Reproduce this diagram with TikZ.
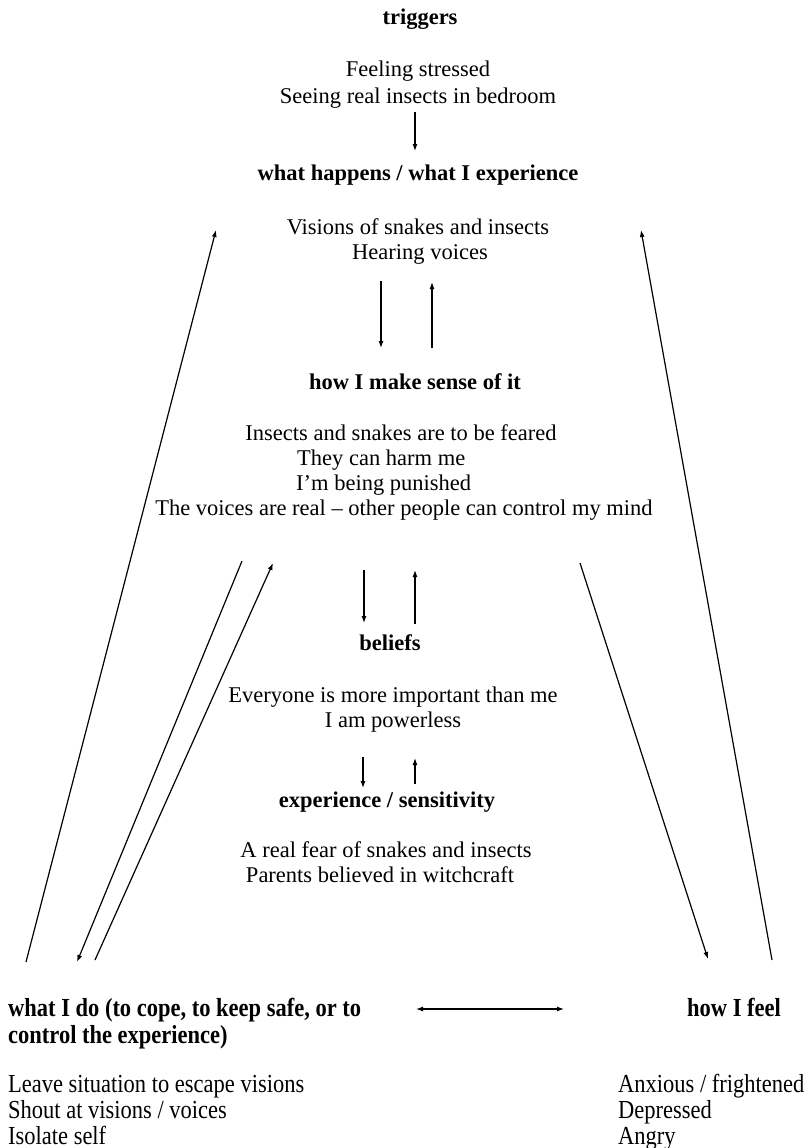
\documentclass[tikz,border=0pt]{standalone}
\usepackage{fontspec}
\setmainfont{Liberation Serif}
\newfontfamily\condfont[FakeStretch=0.865]{Liberation Serif}
\usetikzlibrary{arrows.meta}
\begin{document}
\begin{tikzpicture}[x=1pt,y=-1pt,
  txt/.style={inner sep=0pt, anchor=base, font=\fontsize{22.5}{25.5}\selectfont},
  head/.style={inner sep=0pt, anchor=base, font=\fontsize{22.5}{25.5}\selectfont\bfseries},
  ltxt/.style={txt, anchor=base west},
  ctxt/.style={inner sep=0pt, anchor=base west, font=\condfont\fontsize{26}{26.5}\selectfont},
  chead/.style={inner sep=0pt, anchor=base west, font=\condfont\bfseries\fontsize{26}{26.5}\selectfont},
  conn/.style={line width=1.2pt, -{Latex[length=7pt,width=5pt]}},
  plain/.style={line width=1.2pt},
  dconn/.style={line width=1.2pt, {Latex[length=7pt,width=5pt]}-{Latex[length=7pt,width=5pt]}}]
\useasboundingbox (0,0) rectangle (807,1148);

% texts
\node[head] (trig) at (420,25) {triggers};
\node[txt] (t1) at (418,77) {Feeling stressed};
\node[txt] (t2) at (418,103) {Seeing real insects in bedroom};
\node[head] (happ) at (418,180) {what happens / what I experience};
\node[txt] (h1) at (418,234) {Visions of snakes and insects};
\node[txt] (h2) at (420,259) {Hearing voices};
\node[head] (sense) at (415,389) {how I make sense of it};
\node[txt] (s1) at (401,440) {Insects and snakes are to be feared};
\node[ltxt] (s2) at (297,465) {They can harm me};
\node[ltxt] (s3) at (296,490) {I’m being punished};
\node[txt] (s4) at (404,515) {The voices are real – other people can control my mind};
\node[head] (bel) at (390,650) {beliefs};
\node[txt] (b1) at (393,702) {Everyone is more important than me};
\node[txt] (b2) at (393,727) {I am powerless};
\node[head] (exper) at (387,807) {experience / sensitivity};
\node[txt] (e1) at (386,857) {A real fear of snakes and insects};
\node[txt] (e2) at (380,882) {Parents believed in witchcraft};
\node[chead] (do1) at (8,1016) {what I do (to cope, to keep safe, or to};
\node[chead] (do2) at (8,1043) {control the experience)};
\node[ctxt] (d1) at (8,1092) {Leave situation to escape visions};
\node[ctxt] (d2) at (8,1118) {Shout at visions / voices};
\node[ctxt] (d3) at (8,1144) {Isolate self};
\node[chead] (feel) at (687,1016) {how I feel};
\node[ctxt] (f1) at (618,1092) {Anxious / frightened};
\node[ctxt] (f2) at (618,1118) {Depressed};
\node[ctxt] (f3) at (618,1144) {Angry};

% connector end points
\coordinate (a1s) at (415,112); \coordinate (a1e) at (415,151);
\coordinate (a2s) at (381,281); \coordinate (a2e) at (381,348);
\coordinate (a3s) at (432,348); \coordinate (a3e) at (432,282);
\coordinate (a4s) at (364,570); \coordinate (a4e) at (364,623);
\coordinate (a5s) at (415,624); \coordinate (a5e) at (415,570);
\coordinate (a6s) at (363,757); \coordinate (a6e) at (363,788);
\coordinate (a7s) at (415,784); \coordinate (a7e) at (415,758);
\coordinate (ls) at (26,962);   \coordinate (le) at (216,230);
\coordinate (rs) at (772,960);  \coordinate (re) at (641,230);
\coordinate (las) at (242,561); \coordinate (lae) at (77,962);
\coordinate (lbs) at (95,960);  \coordinate (lbe) at (273,563);
\coordinate (rms) at (580,563); \coordinate (rme) at (708,959);
\coordinate (dls) at (416,1009); \coordinate (dle) at (564,1009);

\draw[conn] (a1s) -- (a1e);
\draw[conn] (a2s) -- (a2e);
\draw[conn] (a3s) -- (a3e);
\draw[conn] (a4s) -- (a4e);
\draw[conn] (a5s) -- (a5e);
\draw[conn] (a6s) -- (a6e);
\draw[conn] (a7s) -- (a7e);
\draw[conn] (ls) -- (le);
\draw[conn] (rs) -- (re);
\draw[conn] (las) -- (lae);
\draw[conn] (lbs) -- (lbe);
\draw[conn] (rms) -- (rme);
\draw[dconn] (dls) -- (dle);
\end{tikzpicture}
\end{document}
